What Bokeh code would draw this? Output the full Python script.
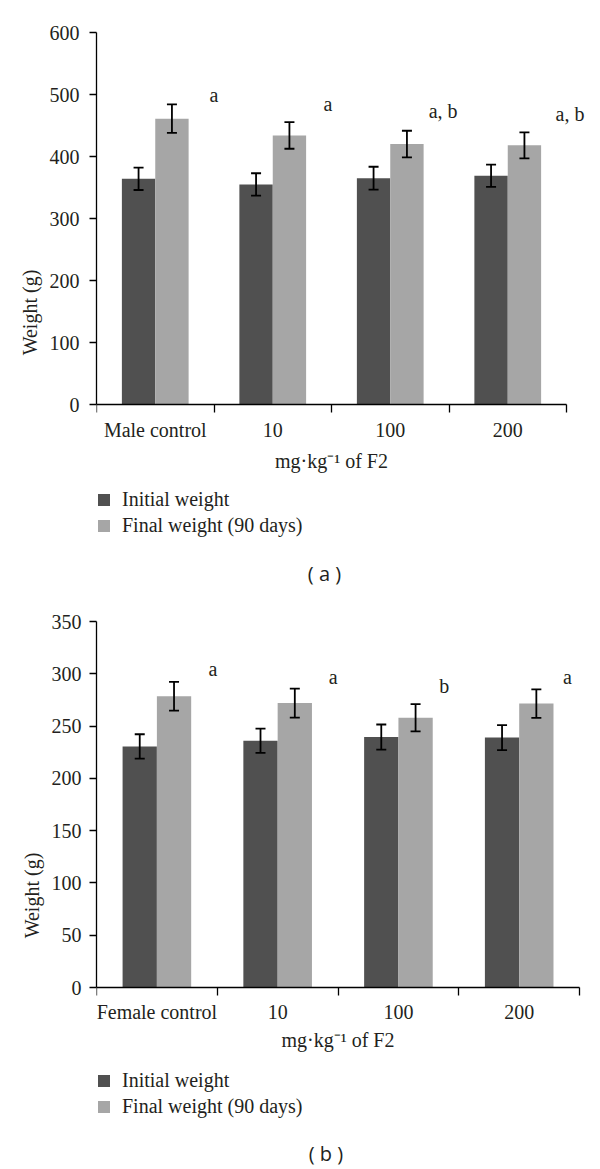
import numpy as np
from bokeh.plotting import figure
from bokeh.models import Range1d, FixedTicker, ColumnDataSource, Whisker, TeeHead, Label
from bokeh.layouts import column
from bokeh.embed import file_html
from bokeh.resources import INLINE

# ---------------- data ----------------
groups_a = ["Male control", "10", "100", "200"]
initial_a = [364, 355, 365, 369]
initial_err_a = [18, 18, 18.5, 18]
final_a = [461, 434, 420, 418]
final_err_a = [23, 21.5, 21.5, 21]
sig_a = ["a", "a", "a, b", "a, b"]
sig_x_a = [1.0, 1.97, 2.95, 4.03]
sig_y_a = [500, 485, 474, 469]
y_ticks_a = [0, 100, 200, 300, 400, 500, 600]

groups_b = ["Female control", "10", "100", "200"]
initial_b = [230.5, 236, 239.5, 239]
initial_err_b = [11.7, 11.6, 12, 12]
final_b = [278.5, 272, 258, 271.5]
final_err_b = [13.7, 13.9, 13, 13.6]
sig_b = ["a", "a", "b", "a"]
sig_x_b = [0.965, 1.96, 2.88, 3.90]
sig_y_b = [305, 297, 288, 297]
y_ticks_b = [0, 50, 100, 150, 200, 250, 300, 350]

x_label = "mg·kg⁻¹ of F2"
y_label = "Weight (g)"
series_names = ["Initial weight", "Final weight (90 days)"]
panel_tags = ["( a )", "( b )"]

DARK = "#505050"
LIGHT = "#a6a6a6"
INK = "#231f20"
SERIF = "Liberation Serif"
FS = "20px"
W = 600


def make_panel(groups, initial, ierr, final, ferr, sig, sig_x, sig_y, yticks,
               tag, height, left, top, axis_px, cat_px, leg_bottom,
               tag_x, tag_y, ylab_standoff, xtick_standoff, xlab_standoff):
    """left/top: frame offsets; axis_px: pixel height of the y=0..max span;
    cat_px: pixel width of one category."""
    n = len(groups)
    ymax = yticks[-1]
    frame_h = height - top
    frame_w = W - left
    ppu = axis_px / ymax
    y0 = ymax - frame_h / ppu
    x1 = frame_w / cat_px
    p = figure(width=W, height=height, output_backend="svg",
               toolbar_location=None, x_range=Range1d(0, x1),
               y_range=Range1d(y0, ymax), min_border=0,
               min_border_left=left, min_border_top=top,
               min_border_right=0, min_border_bottom=0)
    p.outline_line_color = None
    p.xgrid.visible = False
    p.ygrid.visible = False
    p.background_fill_color = "white"
    p.border_fill_color = "white"

    idx = np.arange(n)
    bw = 0.284
    xd = idx + 0.5 - bw / 2
    xl = idx + 0.5 + bw / 2
    src_d = ColumnDataSource(dict(x=xd, top=initial,
                                  lo=np.array(initial) - np.array(ierr),
                                  hi=np.array(initial) + np.array(ierr)))
    src_l = ColumnDataSource(dict(x=xl, top=final,
                                  lo=np.array(final) - np.array(ferr),
                                  hi=np.array(final) + np.array(ferr)))
    p.vbar(x="x", top="top", width=bw, source=src_d, fill_color=DARK,
           line_color=None, legend_label=series_names[0])
    p.vbar(x="x", top="top", width=bw, source=src_l, fill_color=LIGHT,
           line_color=None, legend_label=series_names[1])
    for s in (src_d, src_l):
        w = Whisker(base="x", lower="lo", upper="hi", source=s,
                    line_color="black", line_width=1.8, level="overlay",
                    upper_head=TeeHead(size=10, line_width=1.8, line_color="black"),
                    lower_head=TeeHead(size=10, line_width=1.8, line_color="black"))
        p.add_layout(w)

    for t, sx, sy in zip(sig, sig_x, sig_y):
        p.add_layout(Label(x=sx, y=sy, text=t, text_font=SERIF,
                           text_font_size=FS, text_color=INK,
                           text_align="center", text_baseline="middle"))

    # y axis
    ya = p.yaxis[0]
    ya.bounds = (0, ymax)
    ya.ticker = FixedTicker(ticks=yticks, minor_ticks=[])
    ya.axis_line_color = "black"
    ya.axis_line_width = 1.3
    ya.major_tick_line_color = "black"
    ya.major_tick_line_width = 1.3
    ya.major_tick_out = 7
    ya.major_tick_in = 0
    ya.minor_tick_line_color = None
    ya.major_label_text_font = SERIF
    ya.major_label_text_font_size = FS
    ya.major_label_text_color = INK
    ya.major_label_standoff = ylab_standoff
    ya.axis_label = y_label
    ya.axis_label_text_font = SERIF
    ya.axis_label_text_font_size = FS
    ya.axis_label_text_font_style = "normal"
    ya.axis_label_text_color = INK
    ya.axis_label_standoff = 6

    # x axis at y = 0: labels at centres, tick marks at category boundaries
    xa = p.xaxis[0]
    xa.fixed_location = 0
    xa.bounds = (0, n)
    xa.ticker = FixedTicker(ticks=[i + 0.5 for i in range(n)],
                            minor_ticks=[float(i) for i in range(n + 1)])
    xa.major_label_overrides = {i + 0.5: g for i, g in enumerate(groups)}
    xa.axis_line_color = "black"
    xa.axis_line_width = 1.3
    xa.major_tick_line_color = None
    xa.major_tick_out = 0
    xa.major_tick_in = 0
    xa.minor_tick_line_color = "black"
    xa.minor_tick_line_width = 1.3
    xa.minor_tick_out = 8
    xa.minor_tick_in = 0
    xa.major_label_text_font = SERIF
    xa.major_label_text_font_size = FS
    xa.major_label_text_color = INK
    xa.major_label_standoff = xtick_standoff
    xa.axis_label = x_label
    xa.axis_label_text_font = SERIF
    xa.axis_label_text_font_size = FS
    xa.axis_label_text_font_style = "normal"
    xa.axis_label_text_color = INK
    xa.axis_label_standoff = xlab_standoff

    lg = p.legend[0]
    lg.location = (0, height - leg_bottom)
    lg.orientation = "vertical"
    lg.border_line_color = None
    lg.background_fill_alpha = 0
    lg.padding = 0
    lg.margin = 0
    lg.spacing = 3
    lg.label_height = 22
    lg.glyph_height = 15
    lg.glyph_width = 15
    lg.label_standoff = 11
    lg.label_text_font = SERIF
    lg.label_text_font_size = FS
    lg.label_text_color = INK

    p.add_layout(Label(x=tag_x, y=tag_y, text=tag, text_font="Open Sans",
                       text_font_size="20px", text_color=INK,
                       text_align="center", text_baseline="middle"))
    return p


TOP_H = 592
# panel (a): page rows 0..592, frame top 32, y=0 at 404, x axis 96..566
pa = make_panel(groups_a, initial_a, initial_err_a, final_a, final_err_a,
                sig_a, sig_x_a, sig_y_a, y_ticks_a, panel_tags[0],
                TOP_H, 96, 32, 372, 117.5, 537, 1.94, -272.6, 10, 6, 6)
# panel (b): page rows 592..1169, frame top 621, y=0 at 987, x axis 94..579
pb = make_panel(groups_b, initial_b, initial_err_b, final_b, final_err_b,
                sig_b, sig_x_b, sig_y_b, y_ticks_b, panel_tags[1],
                1169 - TOP_H, 94, 621 - TOP_H, 366, 121.25, 1117.7 - TOP_H,
                1.90, -158.7, 8, 5, 3)

layout = column(pa, pb, spacing=0)
open("out.html", "w").write(file_html(layout, INLINE))
